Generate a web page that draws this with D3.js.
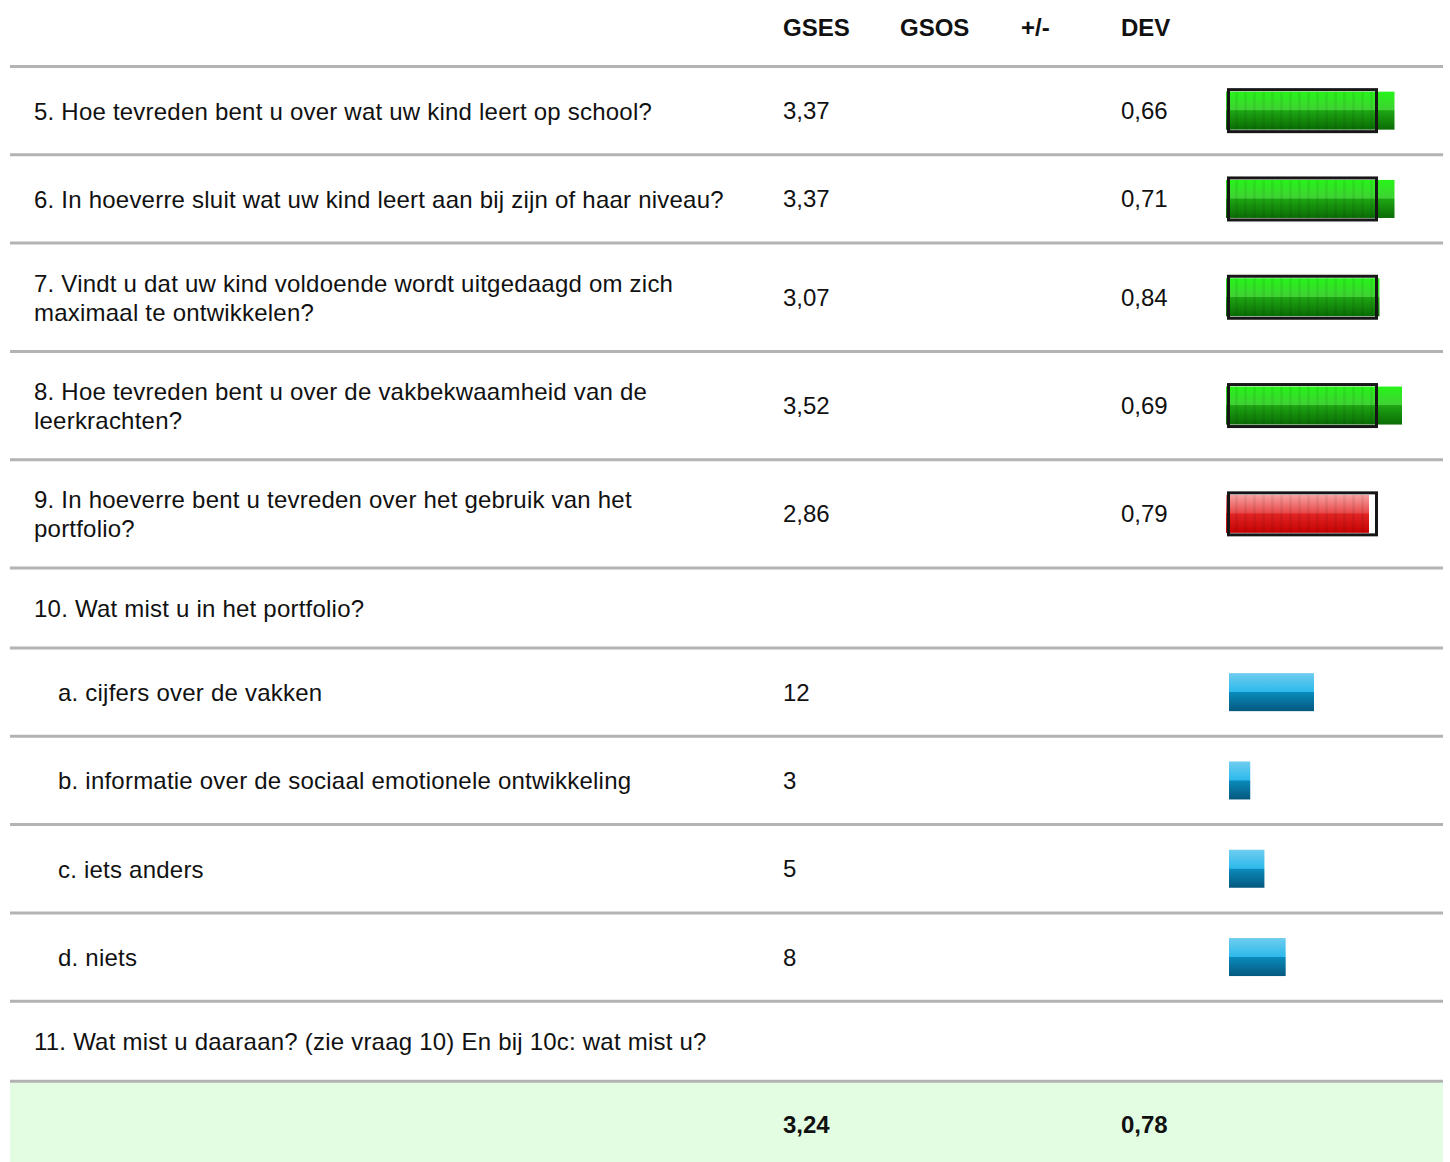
<!DOCTYPE html>
<html lang="nl">
<head>
<meta charset="UTF-8">
<title>Tevredenheid ouders</title>
<script src="https://d3js.org/d3.v7.min.js"></script>
<style>
    body {
        margin: 0;
        padding: 0;
        background-color: #fff;
    }
    svg text {
        font-family: "Liberation Sans", Arial, Helvetica, sans-serif;
        font-size: 24px;
        fill: #111;
    }
    .lbl {
        letter-spacing: 0.22px;
    }
    .head, .total {
        font-weight: bold;
    }
</style>
</head>
<body>
<svg id="chart" width="1450" height="1162"></svg>
<script>
// column headers
const headers = ["GSES", "GSOS", "+/-", "DEV"];

// question labels, "\n" = line break in the original table
const labels = [
    "5. Hoe tevreden bent u over wat uw kind leert op school?",
    "6. In hoeverre sluit wat uw kind leert aan bij zijn of haar niveau?",
    "7. Vindt u dat uw kind voldoende wordt uitgedaagd om zich\nmaximaal te ontwikkelen?",
    "8. Hoe tevreden bent u over de vakbekwaamheid van de\nleerkrachten?",
    "9. In hoeverre bent u tevreden over het gebruik van het\nportfolio?",
    "10. Wat mist u in het portfolio?",
    "a. cijfers over de vakken",
    "b. informatie over de sociaal emotionele ontwikkeling",
    "c. iets anders",
    "d. niets",
    "11. Wat mist u daaraan? (zie vraag 10) En bij 10c: wat mist u?"
];
// score = mean on 4 point scale, count = number of answers, title = text only
const rowTypes = ["score", "score", "score", "score", "score", "title",
                  "count", "count", "count", "count", "title"];
const gses = [3.37, 3.37, 3.07, 3.52, 2.86, null, 12, 3, 5, 8, null];
const dev  = [0.66, 0.71, 0.84, 0.69, 0.79, null, null, null, null, null, null];

const norm = 3.0;       // reference box drawn around the score bars
const totalGses = 3.24;
const totalDev = 0.78;

const svg = d3.select("#chart");
const lineH = 29;
const left = 10, right = 1443;
const colX = { label: 34, sub: 58, gses: 783, gsos: 900, pm: 1021, dev: 1121, bar: 1226 };

const comma = v => d3.format(".2f")(v).replace(".", ",");

// row layout
let y = 66.5;
const rows = labels.map((l, i) => {
    const lines = l.split("\n");
    const hasBar = rowTypes[i] !== "title";
    const h = hasBar ? Math.max(88.3, lines.length * lineH + 50.3) : lines.length * lineH + 51;
    const r = { i, lines, type: rowTypes[i], gses: gses[i], dev: dev[i], top: y, h, mid: y + h / 2 };
    y += h;
    return r;
});
const totalTop = y;

// scales
const xScore = d3.scaleLinear().domain([0, 4]).range([colX.bar, colX.bar + 200]);
const xCount = d3.scaleLinear().domain([0, d3.max(gses.filter((v, i) => rowTypes[i] === "count"))])
    .range([colX.bar + 3, colX.bar + 88]);

// gradients
const defs = svg.append("defs");
function grad(id, stops) {
    const g = defs.append("linearGradient").attr("id", id)
        .attr("x1", 0).attr("y1", 0).attr("x2", 0).attr("y2", 1);
    stops.forEach(s => g.append("stop").attr("offset", s[0]).attr("stop-color", s[1]));
}
grad("gGreen", [["0", "#27f418"], ["0.48", "#3fd234"], ["0.5", "#1ea613"], ["1", "#0a6c04"]]);
grad("gRed", [["0", "#f9a2a2"], ["0.48", "#e84848"], ["0.5", "#e02424"], ["1", "#c60202"]]);
grad("gBlue", [["0", "#6fcdef"], ["0.49", "#2db9eb"], ["0.51", "#0a8abb"], ["1", "#04587e"]]);

const stripes = defs.append("pattern").attr("id", "stripes")
    .attr("patternUnits", "userSpaceOnUse").attr("width", 9).attr("height", 10)
    .attr("x", colX.bar + 3);
stripes.append("rect").attr("x", 6).attr("width", 3).attr("height", 10)
    .attr("fill", "#000").attr("opacity", 0.06);

// header
svg.selectAll(".head").data(headers).join("text")
    .attr("class", "head")
    .attr("x", (d, i) => [colX.gses, colX.gsos, colX.pm, colX.dev][i])
    .attr("y", 27)
    .attr("dominant-baseline", "central")
    .text(d => d);

// total row background
svg.append("rect")
    .attr("x", left).attr("y", totalTop)
    .attr("width", right - left).attr("height", 1162 - totalTop)
    .attr("fill", "#e3fde3");

// separators
svg.selectAll(".sep").data([rows[0].top, ...rows.map(r => r.top + r.h)]).join("line")
    .attr("class", "sep")
    .attr("x1", left).attr("x2", right)
    .attr("y1", d => d).attr("y2", d => d)
    .attr("stroke", "#b3b3b3").attr("stroke-width", 3);

const g = svg.selectAll(".row").data(rows).join("g").attr("class", "row");

// labels
g.each(function (r) {
    const x0 = r.type === "count" ? colX.sub : colX.label;
    const t = d3.select(this).append("text")
        .attr("class", "lbl")
        .attr("x", x0)
        .attr("dominant-baseline", "central");
    r.lines.forEach((ln, k) => {
        t.append("tspan")
            .attr("x", x0)
            .attr("y", r.mid + (k - (r.lines.length - 1) / 2) * lineH)
            .text(ln);
    });
});

// values
g.filter(r => r.gses != null).append("text")
    .attr("x", colX.gses).attr("y", r => r.mid)
    .attr("dominant-baseline", "central")
    .text(r => r.type === "count" ? r.gses : comma(r.gses));
g.filter(r => r.dev != null).append("text")
    .attr("x", colX.dev).attr("y", r => r.mid)
    .attr("dominant-baseline", "central")
    .text(r => comma(r.dev));

// score bars
const sc = g.filter(r => r.type === "score");
sc.append("rect")
    .attr("x", xScore(0))
    .attr("y", r => r.mid - 19)
    .attr("width", r => xScore(r.gses) - xScore(0))
    .attr("height", 38)
    .attr("fill", r => r.gses < norm ? "url(#gRed)" : "url(#gGreen)");
sc.append("rect")
    .attr("x", xScore(0))
    .attr("y", r => r.mid - 19)
    .attr("width", r => Math.min(xScore(r.gses), xScore(norm)) - xScore(0))
    .attr("height", 38)
    .attr("fill", "url(#stripes)");
sc.append("rect")
    .attr("x", xScore(0) + 2.5)
    .attr("y", r => r.mid - 21)
    .attr("width", xScore(norm) - xScore(0) - 2)
    .attr("height", 42)
    .attr("fill", "none")
    .attr("stroke", "#161616")
    .attr("stroke-width", 3);

// count bars
g.filter(r => r.type === "count").append("rect")
    .attr("x", xCount(0))
    .attr("y", r => r.mid - 19)
    .attr("width", r => xCount(r.gses) - xCount(0))
    .attr("height", 38)
    .attr("fill", "url(#gBlue)");

// totals
const tMid = totalTop + (1162 - totalTop) / 2 + 3;
svg.append("text").attr("class", "total")
    .attr("x", colX.gses).attr("y", tMid)
    .attr("dominant-baseline", "central")
    .text(comma(totalGses));
svg.append("text").attr("class", "total")
    .attr("x", colX.dev).attr("y", tMid)
    .attr("dominant-baseline", "central")
    .text(comma(totalDev));
</script>
</body>
</html>
